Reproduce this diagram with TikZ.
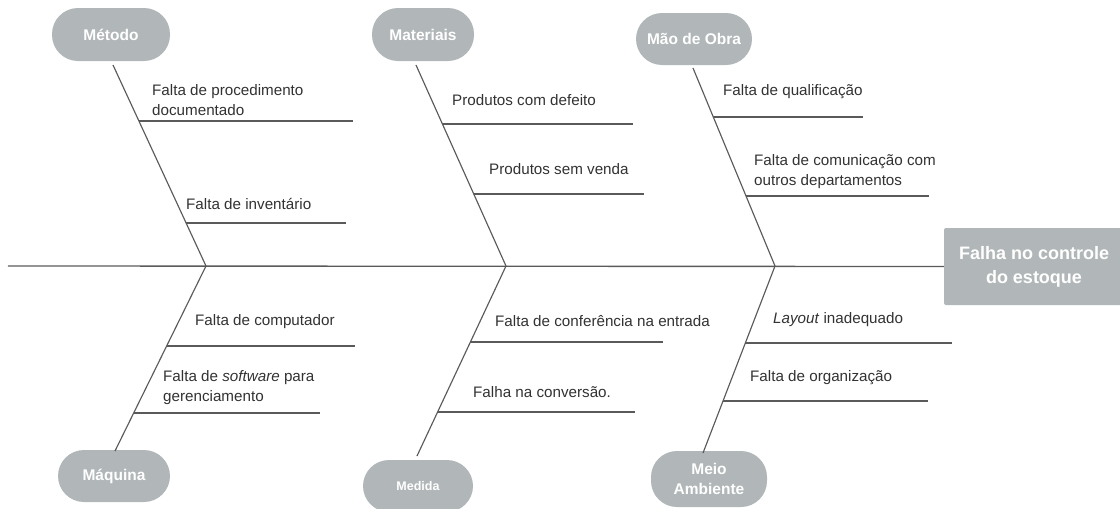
\documentclass[tikz,border=0pt]{standalone}
\usepackage{fontspec}
\setmainfont{Liberation Sans}
\usetikzlibrary{calc}
\definecolor{pillgray}{RGB}{177,183,184}
\definecolor{bonecol}{RGB}{90,90,90}
\definecolor{txtcol}{RGB}{50,50,50}
\begin{document}
\begin{tikzpicture}[x=1pt,y=-1pt,
  pill/.style={fill=pillgray,draw=none,rounded corners=26pt,text=white,
    font=\fontsize{15.5}{20}\selectfont\bfseries,align=center,inner sep=0pt,
    minimum height=53pt},
  effect/.style={fill=pillgray,draw=none,rounded corners=2pt,text=white,
    font=\fontsize{18}{24}\selectfont\bfseries,align=center,inner sep=0pt,
    minimum width=180pt,minimum height=77pt},
  cause/.style={anchor=west,inner sep=0pt,text=txtcol,align=left,
    font=\fontsize{15.2}{20}\selectfont},
  bone/.style={draw=bonecol,line width=1.15pt},
  spine/.style={draw=bonecol,line width=1.35pt}]
\useasboundingbox (0,0) rectangle (1120,509);

% category nodes
\node[pill,minimum width=118pt] (met) at (111,34.5) {Método};
\node[pill,minimum width=102pt] (mat) at (423,34.5) {Materiais};
\node[pill,minimum width=116pt,minimum height=52pt] (mao) at (694,39) {Mão de Obra};
\node[pill,minimum width=112pt,minimum height=52pt] (maq) at (114,476) {Máquina};
\node[pill,minimum width=110pt,minimum height=52pt,font=\fontsize{12.5}{16}\selectfont\bfseries] (med) at (418,486) {Medida};
\node[pill,minimum width=116pt,minimum height=56pt] (mei) at (709,479) {Meio\\Ambiente};
\node[effect] (eff) at (1034,266.5) {Falha no controle\\do estoque};

% spine
\coordinate (s0) at (8,266);
\coordinate (j1) at (206,266);
\coordinate (j2) at (506,266);
\coordinate (j3) at (775,266);
\draw[spine] (s0) -- (eff.west);

% bone ends
\coordinate (bmet) at (113,65);
\coordinate (bmat) at (416,65);
\coordinate (bmao) at (693,68);
\coordinate (bmaq) at (115,451);
\coordinate (bmed) at (417,456);
\coordinate (bmei) at (703,453);
\draw[bone] (bmet) -- (j1) -- (bmaq);
\draw[bone] (bmat) -- (j2) -- (bmed);
\draw[bone] (bmao) -- (j3) -- (bmei);

% branch points on bones and free ends
\coordinate (a1) at (138.9,121); \coordinate (a1e) at (353,121);
\coordinate (a2) at (186.1,223); \coordinate (a2e) at (346,223);
\coordinate (b1) at (442.4,124); \coordinate (b1e) at (633,124);
\coordinate (b2) at (473.8,194); \coordinate (b2e) at (644,194);
\coordinate (c1) at (713.3,117); \coordinate (c1e) at (863,117);
\coordinate (c2) at (746.0,196); \coordinate (c2e) at (929,196);
\coordinate (d1) at (166.6,346); \coordinate (d1e) at (355,346);
\coordinate (d2) at (133.7,413); \coordinate (d2e) at (320,413);
\coordinate (e1) at (470.4,342); \coordinate (e1e) at (663,342);
\coordinate (e2) at (437.6,412); \coordinate (e2e) at (635,412);
\coordinate (f1) at (745.4,343); \coordinate (f1e) at (952,343);
\coordinate (f2) at (723.0,401); \coordinate (f2e) at (928,401);
\foreach \p in {a1,a2,b1,b2,c1,c2,d1,d2,e1,e2,f1,f2}{
  \draw[bone] (\p) -- (\p e);
}

% cause labels
\node[cause] (ta1) at (152,100) {Falta de procedimento\\documentado};
\node[cause] (ta2) at (186,204) {Falta de inventário};
\node[cause] (tb1) at (452,100) {Produtos com defeito};
\node[cause] (tb2) at (489,169) {Produtos sem venda};
\node[cause] (tc1) at (723,92) {Falta de qualificação};
\node[cause] (tc2) at (754,172) {Falta de comunicação com\\outros departamentos};
\node[cause] (td1) at (195,322) {Falta de computador};
\node[cause] (td2) at (163,388) {Falta de \textit{software} para\\gerenciamento};
\node[cause] (te1) at (495,321) {Falta de conferência na entrada};
\node[cause] (te2) at (473,392) {Falha na conversão.};
\node[cause] (tf1) at (773,320) {\textit{Layout} inadequado};
\node[cause] (tf2) at (750,378) {Falta de organização};
\end{tikzpicture}
\end{document}
